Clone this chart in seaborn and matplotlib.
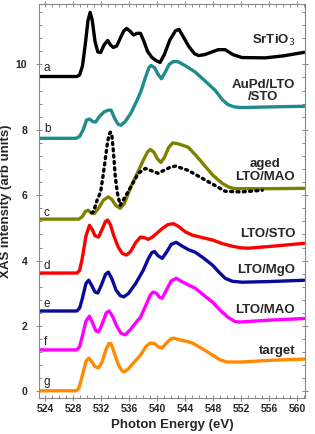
import numpy as np
import pandas as pd
import matplotlib
matplotlib.use("Agg")
import matplotlib.pyplot as plt
from matplotlib.ticker import MultipleLocator
import seaborn as sns

# curve a - SrTiO3
e_a = [523, 528.5, 528.9, 529.3, 529.7, 530.1, 530.4, 530.7, 531.1, 531.5, 531.9, 532.4, 532.9, 533.3,
       533.7, 534.2, 534.7, 535.2, 535.6, 536.1, 536.6, 537.1, 537.6, 538.1, 538.6, 539.2, 539.8, 540.4,
       541, 541.8, 542.6, 543.1, 543.7, 544.5, 545.3, 545.9, 546.8, 547.8, 548.7, 549.7, 550.8, 552.1,
       555.4, 558, 561]
v_a = [9.63, 9.63, 9.68, 9.95, 10.6, 11.35, 11.59, 11.35, 10.7, 10.38, 10.36, 10.6, 10.73, 10.6,
       10.52, 10.56, 10.8, 11.02, 11.1, 11.02, 10.9, 10.95, 10.95, 10.7, 10.4, 10.22, 10.12, 10.06,
       10.3, 10.75, 11.03, 11.07, 10.85, 10.55, 10.33, 10.27, 10.3, 10.38, 10.45, 10.45, 10.3, 10.21,
       10.2, 10.26, 10.37]

# curve b - AuPd/LTO/STO
e_b = [523, 528.4, 528.9, 529.4, 529.9, 530.3, 530.8, 531.2, 531.7, 532.4, 533.0, 533.4, 533.9, 534.4,
       534.8, 535.4, 536.2, 537.1, 537.7, 538.3, 538.8, 539.1, 539.6, 540.1, 540.6, 541.1, 541.7, 542.3,
       543, 544, 545.4, 546.8, 548.3, 549.3, 550.1, 551, 552.1, 556, 561]
v_b = [7.74, 7.74, 7.8, 8.0, 8.3, 8.33, 8.25, 8.24, 8.4, 8.55, 8.6, 8.6, 8.35, 8.17,
       8.14, 8.25, 8.5, 8.9, 9.2, 9.6, 9.9, 9.97, 9.9, 9.7, 9.56, 9.75, 10.0, 10.09,
       10.08, 9.96, 9.77, 9.5, 9.2, 8.92, 8.77, 8.7, 8.68, 8.7, 8.72]

# curve c - aged LTO/MAO (solid)
e_c = [523, 528.8, 529.3, 529.7, 530.1, 530.6, 531, 531.6, 532.3, 533, 533.5, 534.1, 534.7, 535.3,
       536.3, 537.2, 538, 538.6, 539, 539.5, 540, 540.5, 541, 541.6, 542.2, 543, 544.4, 545.6,
       546.9, 548, 549.3, 550.3, 551.1, 556, 561]
v_c = [5.27, 5.27, 5.35, 5.5, 5.54, 5.46, 5.44, 5.6, 5.85, 5.95, 5.87, 5.68, 5.6, 5.75,
       6.3, 6.7, 7.07, 7.32, 7.4, 7.32, 7.12, 7.0, 7.15, 7.45, 7.6, 7.57, 7.47, 7.2,
       6.87, 6.6, 6.36, 6.24, 6.2, 6.2, 6.21]

# aged LTO/MAO, second spectrum (dotted)
e_c2 = [530.6, 530.9, 531.4, 531.9, 532.3, 532.6, 532.9, 533.1, 533.3, 533.5, 533.7,
        534.0, 534.3, 534.7, 536.1, 537.3, 538.3, 540.1, 541.9, 542.6, 544.4, 546.9, 549.7, 552, 555]
v_c2 = [5.46, 5.5, 5.85, 6.1, 6.67, 7.16, 7.63, 7.85, 7.93, 7.85, 7.4,
        6.55, 6.06, 5.69, 6.21, 6.67, 6.82, 6.67, 6.86, 6.89, 6.76, 6.46, 6.12, 6.1, 6.15]

# curve d - LTO/STO
e_d = [523, 528.5, 528.9, 529.3, 529.8, 530.3, 530.7, 531.1, 531.6, 532.1, 532.6, 532.9, 533.3, 533.8,
       534.4, 535, 535.6, 536.2, 536.9, 537.6, 538.2, 538.7, 539.3, 540, 540.7, 541.5, 542.3, 543,
       544, 545, 546.5, 547.9, 549.3, 550.7, 552, 553, 557, 561]
v_d = [3.62, 3.62, 3.7, 4.1, 4.75, 5.08, 4.95, 4.76, 4.72, 4.95, 5.2, 5.24, 5.1, 4.75,
       4.42, 4.22, 4.17, 4.28, 4.55, 4.72, 4.7, 4.65, 4.72, 4.85, 4.98, 5.1, 5.13, 5.05,
       4.88, 4.78, 4.7, 4.63, 4.52, 4.44, 4.39, 4.38, 4.45, 4.53]

# curve e - LTO/MgO
e_e = [523, 528.5, 528.9, 529.3, 529.8, 530.2, 530.6, 531.1, 531.5, 532, 532.6, 533, 533.5, 534.1,
       534.7, 535.2, 535.9, 536.9, 538, 538.7, 539.2, 539.6, 540.1, 540.7, 541.3, 542, 542.7, 543.5,
       544.5, 545.4, 546.6, 547.9, 548.8, 549.7, 550.7, 552.1, 556, 561]
v_e = [2.46, 2.46, 2.55, 2.85, 3.3, 3.4, 3.25, 3.04, 3.01, 3.25, 3.58, 3.65, 3.45, 3.1,
       2.93, 2.89, 3.0, 3.3, 3.71, 4.05, 4.24, 4.28, 4.15, 4.07, 4.25, 4.5, 4.56, 4.45,
       4.33, 4.26, 4.08, 3.86, 3.65, 3.46, 3.37, 3.34, 3.36, 3.4]

# curve f - LTO/MAO
e_f = [523, 528.5, 528.9, 529.3, 529.8, 530.3, 530.7, 531.2, 531.6, 532.1, 532.7, 533.1, 533.6, 534.2,
       534.8, 535.4, 536.2, 537, 537.6, 538.4, 539, 539.4, 539.9, 540.3, 540.7, 541.3, 542, 542.7,
       543.5, 544.5, 545.4, 546.6, 547.9, 549, 550.1, 551, 551.6, 556, 561]
v_f = [1.27, 1.27, 1.37, 1.7, 2.15, 2.3, 2.12, 1.86, 1.82, 2.05, 2.4, 2.46, 2.3, 2.0,
       1.78, 1.73, 1.9, 2.12, 2.27, 2.65, 2.95, 3.04, 3.0, 2.88, 2.85, 3.1, 3.38, 3.46,
       3.36, 3.25, 3.16, 2.95, 2.73, 2.48, 2.27, 2.15, 2.12, 2.18, 2.23]

# curve g - target
e_g = [523, 528.4, 528.8, 529.3, 529.8, 530.2, 530.6, 531.1, 531.6, 532.1, 532.7, 533.1, 533.4, 533.9,
       534.5, 535, 535.3, 535.9, 536.8, 537.6, 538.4, 539, 539.6, 540.2, 540.7, 541.3, 541.9, 542.3,
       543.2, 544.2, 545, 546.5, 547.9, 549, 550, 552.1, 556, 561]
v_g = [0.02, 0.02, 0.1, 0.5, 0.92, 1.02, 0.92, 0.76, 0.72, 0.9, 1.3, 1.47, 1.46, 1.15,
       0.78, 0.62, 0.6, 0.7, 0.92, 1.11, 1.38, 1.48, 1.46, 1.36, 1.33, 1.48, 1.6, 1.63,
       1.58, 1.53, 1.48, 1.3, 1.11, 0.96, 0.9, 0.9, 0.95, 0.99]

letters = ["a", "b", "c", "d", "e", "f", "g"]
letter_y = [9.88, 8.04, 5.45, 3.85, 2.68, 1.5, 0.28]
names = ["SrTiO$_3$", "AuPd/LTO\n/STO", "aged\nLTO/MAO", "LTO/STO", "LTO/MgO", "LTO/MAO", "target"]
name_y = [10.73, 9.19, 6.75, 4.81, 3.71, 2.49, 1.24]

sns.set_style("ticks")
plt.rcParams['font.family'] = ['Liberation Sans', 'DejaVu Sans']

fig = plt.figure(figsize=(3.15, 4.34), dpi=100)
ax = fig.add_axes([0.124, 0.083, 0.844, 0.908])

curves = [(e_a, v_a, "black"), (e_b, v_b, "#1f8c8c"), (e_c, v_c, "#808000"),
          (e_d, v_d, "#ff0000"), (e_e, v_e, "#0a0a99"), (e_f, v_f, "#ff00ff"),
          (e_g, v_g, "#ff8a00")]
for e, v, col in curves:
    sns.lineplot(x=e, y=v, color=col, linewidth=2.4, ax=ax, sort=False,
                 solid_joinstyle="round", solid_capstyle="round")
sns.lineplot(x=e_c2, y=v_c2, color="black", linewidth=2.4, linestyle=(0, (0.6, 1.3)),
             dash_capstyle="round", ax=ax, sort=False)

for lab, y in zip(letters, letter_y):
    ax.text(523.8, y, lab, fontsize=8.5, ha="left", va="center", color="#222222")
for lab, y in zip(names, name_y):
    ax.text(559.7, y, lab, fontsize=9.5, fontweight="bold", ha="right", va="center",
            multialignment="center", linespacing=1.05)

ax.set_xlim(523.1, 561.1)
ax.set_ylim(-0.2, 11.85)
ax.xaxis.set_major_locator(MultipleLocator(4))
ax.xaxis.set_minor_locator(MultipleLocator(1))
ax.yaxis.set_major_locator(MultipleLocator(2))
ax.yaxis.set_minor_locator(MultipleLocator(0.4))
ax.tick_params(which="both", top=True, right=True, color="#888888", width=0.7)
ax.tick_params(which="major", direction="inout", length=5, labelsize=7.5)
ax.tick_params(which="minor", direction="in", length=2.5)
ax.tick_params(axis="y", which="major", pad=6)
ax.tick_params(axis="x", which="major", pad=1.5)
for lbl in ax.get_xticklabels() + ax.get_yticklabels():
    lbl.set_fontweight("bold")
for sp in ax.spines.values():
    sp.set_color("#888888")
    sp.set_linewidth(0.8)

ax.set_xlabel("Photon Energy (eV)", fontsize=9.5, fontweight="bold", labelpad=4)
ax.set_ylabel("XAS intensity (arb units)", fontsize=9.5, fontweight="bold")
ax.yaxis.set_label_coords(-0.1, 0.5)

fig.savefig("out.png", dpi=100)
